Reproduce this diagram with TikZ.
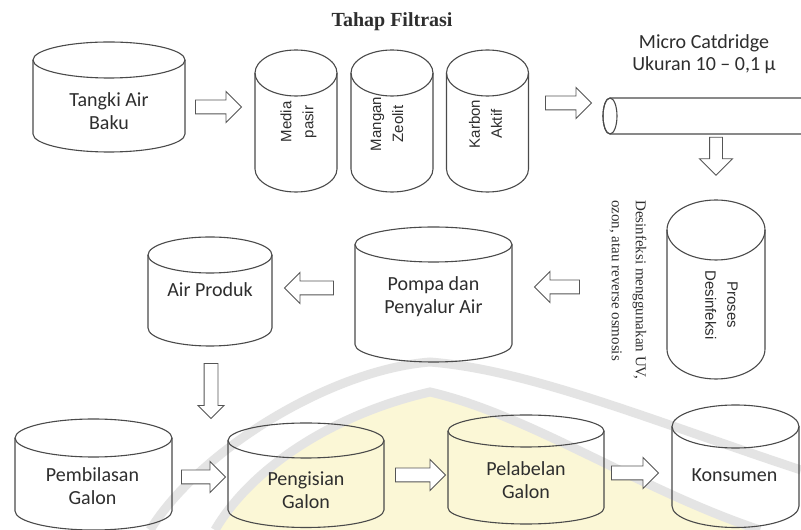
\documentclass[tikz,border=0pt]{standalone}
\usepackage{fontspec}
\setmainfont{Carlito}
\newfontfamily\serifface{Liberation Serif}
\newfontfamily\arialface{Liberation Sans}
\usetikzlibrary{shapes.arrows,calc}

\definecolor{linegray}{HTML}{4A4A4A}
\definecolor{txtgray}{HTML}{2E2E2E}
\definecolor{arrgray}{HTML}{555555}
\definecolor{wmgray}{HTML}{E4E4E4}
\definecolor{wmyellow}{HTML}{FBF7D6}

% vertical drum: name, centre x, x radius, top-ellipse y, bottom-ellipse y, y radius
\newcommand\drumshape[6]{%
  \draw[drumline] (#2-#3,#4) -- (#2-#3,#5)
    arc[start angle=180, end angle=360, x radius=#3pt, y radius=#6pt] -- (#2+#3,#4);
  \draw[drumline] (#2,#4) ellipse[x radius=#3pt, y radius=#6pt];
  \coordinate (#1) at (#2,{(#4+#5)/2});}

% hollow block arrow: name, tail, head, direction, shaft, head extend
\newcommand\flowarrow[6]{%
  \path let \p1=(#2), \p2=(#3), \n1={veclen(\x2-\x1,\y2-\y1)} in
    node[bigarrow, minimum height=\n1, shape border rotate=#4,
         single arrow head extend=#6pt] (#1) at ($(#2)!0.5!(#3)$)
         {\rule{0pt}{#5pt}\hspace*{#5pt}};}

\begin{document}
\begin{tikzpicture}[x=1pt,y=1pt,
  drumline/.style={draw=linegray, line width=1.1pt},
  lbl/.style={text=txtgray, font=\fontsize{20}{23}\selectfont, align=center, inner sep=0pt},
  flabel/.style={text=txtgray, font=\arialface\fontsize{15}{22}\selectfont, align=center, inner sep=0pt},
  note/.style={text=txtgray, font=\serifface\fontsize{15}{24}\selectfont, align=left, inner sep=0pt},
  bigarrow/.style={single arrow, draw=arrgray, fill=white, line width=0.9pt,
    inner sep=0pt, minimum width=0pt, single arrow tip angle=90,
    single arrow head indent=0pt}
]
\useasboundingbox (0,0) rectangle (801,530);
\clip (0,0) rectangle (801,530);
\fill[white] (0,0) rectangle (801,530);

% faint background emblem
\fill[wmyellow] (215,0) .. controls (250,60) and (330,115) .. (430,138)
  .. controls (530,115) and (640,40) .. (760,0) -- cycle;
\draw[wmgray, line width=9pt] (215,0) .. controls (250,60) and (330,115) .. (430,138)
  .. controls (530,115) and (640,40) .. (760,0);
\draw[wmgray, line width=9pt] (150,0) .. controls (200,80) and (330,160) .. (430,168)
  .. controls (530,160) and (650,110) .. (801,60);

% title of the filtration stage
\node[text=txtgray, font=\serifface\bfseries\fontsize{20}{24}\selectfont, inner sep=0pt]
  (title) at (392,508) {Tahap Filtrasi};

% raw water tank
\drumshape{tangki}{109}{76}{470}{396}{18}
\node[lbl] (tangkiL) at (109,419) {Tangki Air\\Baku};

% filter columns
\drumshape{media}{296}{41}{457}{361}{23}
\drumshape{mangan}{392}{41}{457}{361}{23}
\drumshape{karbon}{487.5}{41}{457}{361}{23}
\node[flabel, rotate=90] (mediaL) at (298.5,408) {Media\\pasir};
\node[flabel, rotate=90] (manganL) at (387,406) {Mangan\\Zeolit};
\node[flabel, rotate=90] (karbonL) at (485.5,406) {Karbon\\Aktif};

% micro cartridge pipe
\draw[drumline] (815,432) -- (610,432)
  arc[start angle=90, end angle=270, x radius=7pt, y radius=18pt] -- (815,396);
\draw[drumline] (610,414) ellipse[x radius=7pt, y radius=18pt];
\coordinate (pipe) at (700,414);
\node[lbl, font=\fontsize{20}{22}\selectfont] (microL) at (704,476)
  {Micro Catdridge\\Ukuran 10 – 0,1 µ};

% disinfection
\drumshape{proses}{716}{49}{300}{181}{30}
\node[flabel, rotate=-90] (prosesL) at (721.5,225) {Proses\\Desinfeksi};
\node[note, rotate=-90, anchor=west] (noteL) at (628,330)
  {Desinfeksi menggunakan UV,\\ozon, atau reverse osmosis};

% pump and product water
\drumshape{pompa}{433.5}{78.5}{285.5}{185.5}{17.5}
\node[lbl] (pompaL) at (433.5,233.5) {Pompa dan\\Penyalur Air};
\drumshape{produk}{210}{62}{275}{202}{18}
\node[lbl] (produkL) at (210,240) {Air Produk};

% gallon line
\drumshape{bilas}{93.5}{78.5}{92}{19}{19}
\node[lbl] (bilasL) at (92.5,43.5) {Pembilasan\\Galon};
\drumshape{isi}{306}{78}{89.5}{20}{17.5}
\node[lbl] (isiL) at (306,40) {Pengisian\\Galon};
\drumshape{label}{526}{78}{99}{22}{16}
\node[lbl] (labelL) at (526,50) {Pelabelan\\Galon};
\drumshape{konsumen}{735.5}{63.5}{103.5}{24}{21.5}
\node[lbl] (konsumenL) at (734.5,55) {Konsumen};

% arrow end points between the drums
\coordinate (a1s) at (192,423); \coordinate (a1e) at (238,423);
\coordinate (a2s) at (542,427); \coordinate (a2e) at (588,427);
\coordinate (a3s) at (716,396); \coordinate (a3e) at (716,358);
\coordinate (a4s) at (583,243); \coordinate (a4e) at (538,243);
\coordinate (a5s) at (337,242); \coordinate (a5e) at (288,242);
\coordinate (a6s) at (211,170); \coordinate (a6e) at (211,115);
\coordinate (a7s) at (178,53);  \coordinate (a7e) at (222,53);
\coordinate (a8s) at (392,55);  \coordinate (a8e) at (442,55);
\coordinate (a9s) at (608,57);  \coordinate (a9e) at (655,57);

\flowarrow{arr1}{a1s}{a1e}{0}{13}{8.5}
\flowarrow{arr2}{a2s}{a2e}{0}{13}{8.5}
\flowarrow{arr3}{a3s}{a3e}{270}{12}{10}
\flowarrow{arr4}{a4s}{a4e}{180}{13}{8.5}
\flowarrow{arr5}{a5s}{a5e}{180}{13}{8.5}
\flowarrow{arr6}{a6s}{a6e}{270}{13}{6}
\flowarrow{arr7}{a7s}{a7e}{0}{13}{8.5}
\flowarrow{arr8}{a8s}{a8e}{0}{13}{8.5}
\flowarrow{arr9}{a9s}{a9e}{0}{13}{8.5}
\end{tikzpicture}
\end{document}
